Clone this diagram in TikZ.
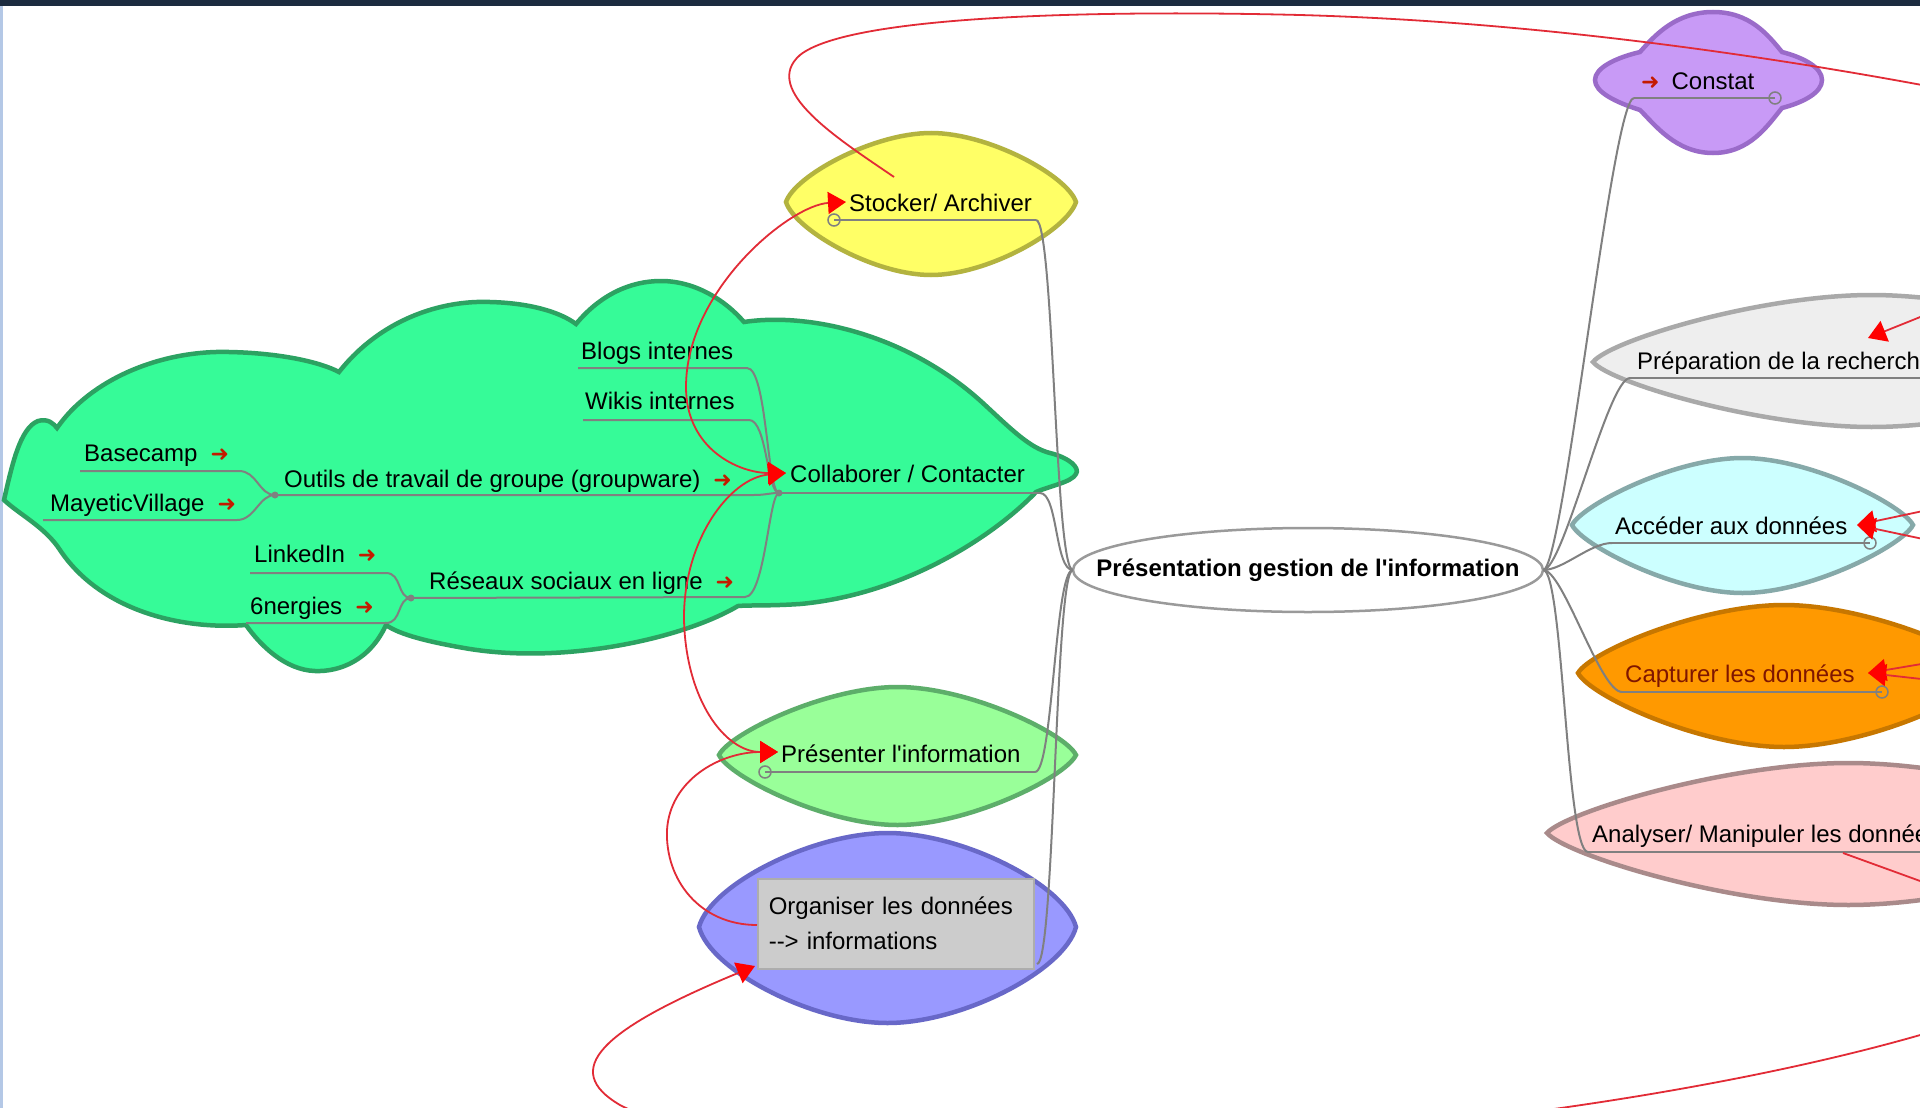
\documentclass[tikz,border=0pt]{standalone}
\usepackage{fontspec}
\setmainfont{Liberation Sans}[Ligatures=TeXOff]
\newfontfamily\dejavu{DejaVu Sans}
\usetikzlibrary{arrows.meta}

\definecolor{framedark}{HTML}{1C2B3F}
\definecolor{framelight}{HTML}{B4C8E6}
\definecolor{cloudfill}{HTML}{36FB98}
\definecolor{cloudline}{HTML}{2CA262}
\definecolor{yellowfill}{HTML}{FFFF66}
\definecolor{yellowline}{HTML}{B3B33F}
\definecolor{lightgreenfill}{HTML}{99FF99}
\definecolor{lightgreenline}{HTML}{5DAE6A}
\definecolor{bluefill}{HTML}{9999FF}
\definecolor{blueline}{HTML}{6868C8}
\definecolor{boxgray}{HTML}{CCCCCC}
\definecolor{purplefill}{HTML}{C89AF6}
\definecolor{purpleline}{HTML}{9A6BC9}
\definecolor{greyfill}{HTML}{EEEEEE}
\definecolor{greyline}{HTML}{A9A9A9}
\definecolor{cyanfill}{HTML}{CCFFFF}
\definecolor{cyanline}{HTML}{86A9A9}
\definecolor{orangefill}{HTML}{FF9900}
\definecolor{orangeline}{HTML}{C77700}
\definecolor{pinkfill}{HTML}{FFCCCC}
\definecolor{pinkline}{HTML}{A98A8A}
\definecolor{edgegray}{HTML}{808080}
\definecolor{centralline}{HTML}{9A9A9A}
\definecolor{linkred}{HTML}{E22B36}
\definecolor{arrowred}{HTML}{FF0000}
\definecolor{iconred}{HTML}{C41A00}
\definecolor{darkred}{HTML}{7F1600}

\newcommand{\fsize}{\fontsize{24}{35}\selectfont}
\newcommand{\ic}{{\dejavu\fontsize{22}{22}\selectfont\color{iconred}➜}}

\tikzset{
TXT/.style={anchor=base west, inner sep=0pt, font=\fsize},
BOXNODE/.style={anchor=north west, fill=boxgray, draw=boxgray!85!black, line width=1.5pt, minimum width=276pt, minimum height=90pt, inner xsep=11pt, text width=254pt, align=left, font=\fsize},
SHAPE/.style 2 args={fill=#1, draw=#2, line width=4.5pt},
CENTRAL/.style={fill=white, draw=centralline, line width=2.5pt},
EDGE/.style={draw=edgegray, line width=2pt},
ULINE/.style={draw=edgegray, line width=2pt},
FOLD/.style={draw=edgegray, line width=1.5pt},
LINK/.style={draw=linkred, line width=1.8pt},
}

% leaf shaped bubble: style, left, right, top, bottom, middle, roundness of the tips
\newcommand{\bulle}[7]{%
  \path[#1] (#2,#6)
    .. controls ({#2+0.03*(#3-#2)},{#6-#7*(#6-#4)}) and ({#2+0.3*(#3-#2)},#4) .. ({(#2+#3)/2},#4)
    .. controls ({#3-0.3*(#3-#2)},#4) and ({#3-0.03*(#3-#2)},{#6-#7*(#6-#4)}) .. (#3,#6)
    .. controls ({#3-0.03*(#3-#2)},{#6+#7*(#5-#6)}) and ({#3-0.3*(#3-#2)},#5) .. ({(#2+#3)/2},#5)
    .. controls ({#2+0.3*(#3-#2)},#5) and ({#2+0.03*(#3-#2)},{#6+#7*(#5-#6)}) .. cycle;}

\begin{document}
\begin{tikzpicture}[x=1pt, y=-1pt, >={Triangle[length=18pt,width=22pt,color=arrowred]}]
	\useasboundingbox (0,0) rectangle (1920,1108);
	\clip (0,0) rectangle (1920,1108);
	\fill[white] (0,0) rectangle (1920,1108);
	\fill[framedark] (0,0) rectangle (1920,6);
	\fill[framelight] (0,6) rectangle (3,1108);

	% cloud of Collaborer
	\path[SHAPE={cloudfill}{cloudline}] (4,500)
		.. controls (12,465) and (20,428) .. (38,421)
		.. controls (48,418) and (54,424) .. (57,428)
		.. controls (90,380) and (160,350) .. (229,352)
		.. controls (280,353) and (320,362) .. (339,372)
		.. controls (380,320) and (440,300) .. (490,302)
		.. controls (530,303) and (560,312) .. (576,324)
		.. controls (600,295) and (630,281) .. (661,281)
		.. controls (695,281) and (725,300) .. (744,322)
		.. controls (810,312) and (910,335) .. (985,405)
		.. controls (1012,430) and (1030,448) .. (1050,453)
		.. controls (1070,458) and (1080,468) .. (1076,474)
		.. controls (1072,482) and (1050,486) .. (1036,492)
		.. controls (990,540) and (900,595) .. (800,604)
		.. controls (770,606) and (750,605) .. (738,606)
		.. controls (680,640) and (560,665) .. (464,648)
		.. controls (430,642) and (400,635) .. (386,625)
		.. controls (370,660) and (340,672) .. (315,671)
		.. controls (285,670) and (260,645) .. (246,625)
		.. controls (180,630) and (100,610) .. (60,550)
		.. controls (45,527) and (20,515) .. (4,500) -- cycle;

	% leaves
	\bulle{SHAPE={yellowfill}{yellowline}}{786}{1076}{133}{275}{202}{0.38}
	\bulle{SHAPE={lightgreenfill}{lightgreenline}}{719}{1076}{687}{825}{755}{0.32}
	\bulle{SHAPE={bluefill}{blueline}}{699}{1076}{833}{1023}{927}{0.45}
	\bulle{SHAPE={greyfill}{greyline}}{1593}{2150}{295}{427}{362}{0.32}
	\bulle{SHAPE={cyanfill}{cyanline}}{1572}{1913}{458}{593}{525}{0.3}
	\bulle{SHAPE={orangefill}{orangeline}}{1578}{1990}{605}{747}{673}{0.32}
	\bulle{SHAPE={pinkfill}{pinkline}}{1547}{2150}{763}{905}{833}{0.3}

	% Constat
	\path[SHAPE={purplefill}{purpleline}] (1713,12)
		.. controls (1750,12) and (1768,35) .. (1782,52)
		.. controls (1805,58) and (1822,68) .. (1822,80)
		.. controls (1822,92) and (1805,102) .. (1782,108)
		.. controls (1768,125) and (1750,153) .. (1713,153)
		.. controls (1676,153) and (1655,125) .. (1640,110)
		.. controls (1615,102) and (1595,92) .. (1595,80)
		.. controls (1595,68) and (1615,58) .. (1640,52)
		.. controls (1655,35) and (1676,12) .. (1713,12) -- cycle;

	% root
	\path[CENTRAL] (1308,570) ellipse [x radius=235, y radius=42];
	\node[inner sep=0pt, minimum width=470pt, minimum height=84pt, font=\fsize\bfseries] (central) at (1308,570) {Présentation gestion de l'information};

	% texts
	\node[TXT] (basecamp) at (84,461) {Basecamp\hspace{13pt}\ic};
	\node[TXT] (mayetic) at (50,511) {MayeticVillage\hspace{13pt}\ic};
	\node[TXT] (outils) at (284,487) {Outils de travail de groupe (groupware)\hspace{13pt}\ic};
	\node[TXT] (linkedin) at (254,562) {LinkedIn\hspace{13pt}\ic};
	\node[TXT] (sixnergies) at (250,614) {6nergies\hspace{13pt}\ic};
	\node[TXT] (reseaux) at (429,589) {Réseaux sociaux en ligne\hspace{13pt}\ic};
	\node[TXT] (blogs) at (581,359) {Blogs internes};
	\node[TXT] (wikis) at (585,409) {Wikis internes};
	\node[TXT] (collab) at (790,482) {Collaborer / Contacter};
	\node[TXT] (stocker) at (849,211) {Stocker/ Archiver};
	\node[TXT] (presenter) at (781,762) {Présenter l'information};
	\node[BOXNODE] (organiser) at (757,878) {Organiser les données\\-{}-{}> informations};
	\node[TXT] (constat) at (1641,89) {\ic\hspace{12pt}Constat};
	\node[TXT] (preparation) at (1637,369) {Préparation de la recherche};
	\node[TXT] (acceder) at (1615,534) {Accéder aux données};
	\node[TXT, text=darkred] (capturer) at (1625,682) {Capturer les données};
	\node[TXT] (analyser) at (1592,842) {Analyser/ Manipuler les données};

	% underline ends
	\coordinate (basecamp-l) at (80,471);   \coordinate (basecamp-r) at (239,471);
	\coordinate (mayetic-l) at (43,520);    \coordinate (mayetic-r) at (237,520);
	\coordinate (linkedin-l) at (250,573);  \coordinate (linkedin-r) at (386,573);
	\coordinate (sixnergies-l) at (246,623); \coordinate (sixnergies-r) at (386,623);
	\coordinate (blogs-l) at (578,368);     \coordinate (blogs-r) at (747,368);
	\coordinate (wikis-l) at (583,420);     \coordinate (wikis-r) at (749,420);
	\coordinate (outils-r) at (754,495);    \coordinate (reseaux-r) at (745,597);
	\coordinate (fork1) at (275,495);
	\coordinate (fork2) at (779,493);
	\coordinate (fork3) at (411,598);
	\coordinate (collab-r) at (1040,493);
	\coordinate (stocker-l) at (834,220);   \coordinate (stocker-r) at (1036,220);
	\coordinate (presenter-l) at (765,772); \coordinate (presenter-r) at (1035,772);
	\coordinate (organiser-r) at (1037,964);
	\coordinate (constat-l) at (1634,98);   \coordinate (constat-r) at (1775,98);
	\coordinate (preparation-l) at (1630,378); \coordinate (preparation-r) at (1960,378);
	\coordinate (acceder-l) at (1612,543);  \coordinate (acceder-r) at (1870,543);
	\coordinate (capturer-l) at (1622,692); \coordinate (capturer-r) at (1882,692);
	\coordinate (analyser-l) at (1588,852); \coordinate (analyser-r) at (1960,852);

	% branches inside the cloud
	\draw[ULINE] (basecamp-l) -- (basecamp-r) .. controls +(18,0) and +(-16,0) .. (fork1);
	\draw[ULINE] (mayetic-l) -- (mayetic-r) .. controls +(18,0) and +(-16,0) .. (fork1);
	\draw[ULINE] (linkedin-l) -- (linkedin-r) .. controls +(16,0) and +(-14,0) .. (fork3);
	\draw[ULINE] (sixnergies-l) -- (sixnergies-r) .. controls +(16,0) and +(-14,0) .. (fork3);
	\draw[ULINE] (fork1) -- (outils-r) .. controls +(12,0) and +(-10,0) .. (fork2);
	\draw[ULINE] (fork3) -- (reseaux-r) .. controls +(20,0) and +(-10,0) .. (fork2);
	\draw[ULINE] (blogs-l) -- (blogs-r) .. controls +(20,0) and +(-12,0) .. (fork2);
	\draw[ULINE] (wikis-l) -- (wikis-r) .. controls +(18,0) and +(-12,0) .. (fork2);
	\draw[ULINE] (fork2) -- (collab-r);
	\foreach \f in {fork1,fork2,fork3}
		\fill[edgegray] (\f) circle[radius=3.5pt];

	% underlines of the other nodes
	\draw[ULINE] (stocker-l) -- (stocker-r);
	\draw[ULINE] (presenter-l) -- (presenter-r);
	\draw[ULINE] (constat-l) -- (constat-r);
	\draw[ULINE] (preparation-l) -- (preparation-r);
	\draw[ULINE] (acceder-l) -- (acceder-r);
	\draw[ULINE] (capturer-l) -- (capturer-r);
	\draw[ULINE] (analyser-l) -- (analyser-r);
	\foreach \f in {stocker-l,presenter-l,constat-r,acceder-r,capturer-r}
		\draw[FOLD] (\f) circle[radius=6pt];

	% edges to the root
	\foreach \n in {stocker,collab,presenter,organiser}
		\draw[EDGE] (\n-r) .. controls +(18,0) and +(-18,0) .. (central.west);
	\foreach \n in {constat,preparation,acceder,capturer,analyser}
		\draw[EDGE] (central.east) .. controls +(20,0) and +(-22,0) .. (\n-l);

	% arrow links
	\coordinate (collab-in) at (786,473);
	\coordinate (stocker-in) at (846,202);
	\coordinate (stocker-out) at (894,177);
	\coordinate (presenter-in) at (778,752);
	\coordinate (organiser-out) at (757,925);
	\coordinate (organiser-in) at (755,966);
	\coordinate (far-top) at (2000,100);
	\coordinate (far-bottom) at (2050,990);
	\draw[LINK,<->] (collab-in) .. controls (740,473) and (686,450) .. (686,387) .. controls (686,290) and (790,205) .. (stocker-in);
	\draw[LINK,<->] (collab-in) .. controls (730,478) and (683,540) .. (684,620) .. controls (686,700) and (725,752) .. (presenter-in);
	\draw[LINK,->] (organiser-out) .. controls (700,925) and (665,880) .. (667,830) .. controls (670,780) and (720,752) .. (presenter-in);
	\draw[LINK,->] (far-bottom) .. controls (1700,1140) and (800,1200) .. (620,1105) .. controls (560,1070) and (600,1030) .. (organiser-in);
	\draw[LINK] (stocker-out) .. controls (840,140) and (760,90) .. (800,55) .. controls (850,15) and (1100,10) .. (1300,15) .. controls (1550,22) and (1800,60) .. (far-top);

	% links coming from the right
	\coordinate (preparation-in) at (1868,338);
	\coordinate (acceder-in) at (1857,525);
	\coordinate (capturer-in) at (1868,673);
	\coordinate (analyser-out) at (1843,853);
	\draw[LINK,->] (1975,295) -- (preparation-in);
	\draw[LINK,->] (1975,500) -- (acceder-in);
	\draw[LINK,->] (1975,550) -- (acceder-in);
	\draw[LINK,->] (1975,655) -- (capturer-in);
	\draw[LINK,->] (1975,685) -- (capturer-in);
	\draw[LINK] (analyser-out) -- (2000,910);
\end{tikzpicture}
\end{document}
